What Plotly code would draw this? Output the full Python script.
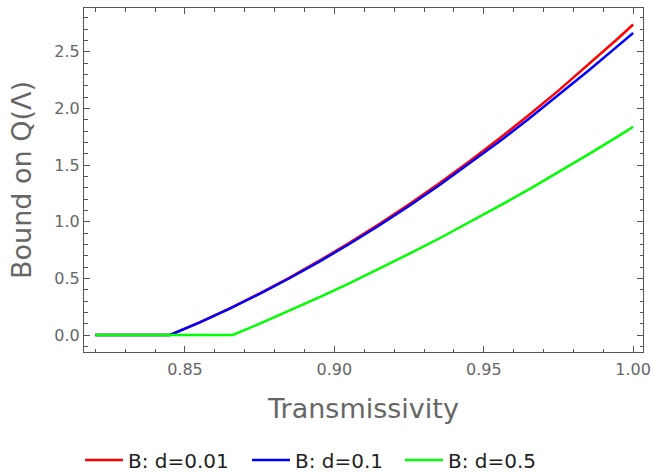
import plotly.graph_objects as go

# Transmissivity values (x) and bounds
x_red = [0.82, 0.845, 0.855, 0.865, 0.875, 0.885, 0.895, 0.905, 0.915, 0.925, 0.935,
         0.945, 0.955, 0.965, 0.975, 0.985, 0.995, 1.0]
y_red = [0, 0, 0.114, 0.236, 0.368, 0.507, 0.656, 0.813, 0.979, 1.154, 1.337,
         1.529, 1.730, 1.939, 2.157, 2.384, 2.619, 2.740]

x_blue = [0.82, 0.845, 0.855, 0.865, 0.875, 0.885, 0.895, 0.905, 0.915, 0.925, 0.935,
          0.945, 0.955, 0.965, 0.975, 0.985, 0.995, 1.0]
y_blue = [0, 0, 0.112, 0.233, 0.364, 0.501, 0.648, 0.803, 0.967, 1.139, 1.319,
          1.507, 1.703, 1.906, 2.116, 2.333, 2.554, 2.665]

x_green = [0.82, 0.866, 0.876, 0.886, 0.896, 0.906, 0.916, 0.926, 0.936, 0.946,
           0.956, 0.966, 0.976, 0.986, 0.996, 1.0]
y_green = [0, 0, 0.111, 0.226, 0.345, 0.469, 0.597, 0.729, 0.865, 1.005,
           1.150, 1.299, 1.452, 1.610, 1.771, 1.838]

names = ["B: d=0.01", "B: d=0.1", "B: d=0.5"]
colors = ["#FF0000", "#0000FF", "#00FF00"]

FONT = "DejaVu Sans"
GRAY = "#666666"
LINE = "#555555"

legend_ids = ["legend", "legend2", "legend3"]
legend_x = [0.1229, 0.3794, 0.6144]

fig = go.Figure()
for xs, ys, nm, c, lid in [(x_red, y_red, names[0], colors[0], legend_ids[0]),
                           (x_blue, y_blue, names[1], colors[1], legend_ids[1]),
                           (x_green, y_green, names[2], colors[2], legend_ids[2])]:
    fig.add_trace(go.Scatter(x=xs, y=ys, mode="lines", name=nm, legend=lid,
                             showlegend=True, line=dict(color=c, width=2.5)))

axis_common = dict(
    showline=True, linecolor=LINE, linewidth=1, mirror="allticks",
    ticks="inside", ticklen=6, tickcolor=LINE, tickwidth=1,
    showgrid=False, zeroline=False,
    tickfont=dict(family=FONT, size=16, color=GRAY),
)

leg_common = dict(orientation="h", xref="container", xanchor="left",
                  yref="container", y=14 / 474, yanchor="middle",
                  itemwidth=38,
                  font=dict(family=FONT, size=20, color="#222222"),
                  bgcolor="rgba(0,0,0,0)", borderwidth=0)

fig.update_layout(
    width=651, height=474,
    showlegend=True,
    margin=dict(l=84, r=8, t=8, b=122, autoexpand=False),
    paper_bgcolor="white", plot_bgcolor="white",
    font=dict(family=FONT),
    xaxis=dict(**axis_common, range=[0.8162, 1.0033], tick0=0.85, dtick=0.05,
               tickformat=".2f", ticklabelstandoff=3, automargin=False,
               minor=dict(ticks="inside", ticklen=3.5, tickcolor=LINE, dtick=0.01, tick0=0.85, showgrid=False),
               title=dict(text="Transmissivity", font=dict(family=FONT, size=27, color=GRAY), standoff=20)),
    yaxis=dict(**axis_common, range=[-0.15, 2.886], tick0=0, dtick=0.5,
               tickformat=".1f", automargin=False,
               minor=dict(ticks="inside", ticklen=3.5, tickcolor=LINE, dtick=0.1, tick0=0, showgrid=False),
               title=dict(text="Bound on Q(Λ)", font=dict(family=FONT, size=27, color=GRAY), standoff=14)),
    legend=dict(**leg_common, x=legend_x[0]),
    legend2=dict(**leg_common, x=legend_x[1]),
    legend3=dict(**leg_common, x=legend_x[2]),
)

fig.write_html("out.html")
